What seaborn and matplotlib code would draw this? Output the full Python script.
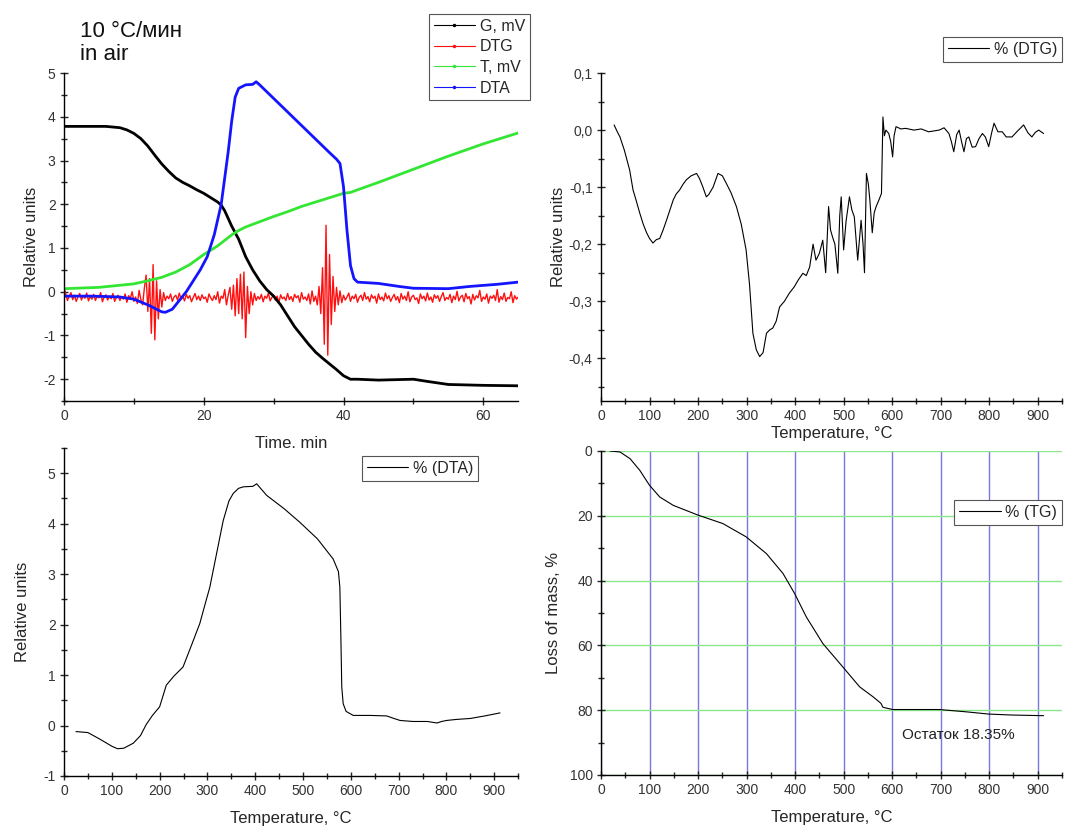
import matplotlib
matplotlib.use('Agg')
import matplotlib.pyplot as plt
import seaborn as sns
from matplotlib.ticker import MultipleLocator, FuncFormatter
from matplotlib.lines import Line2D

# ---- top left: signals vs time ----
g_time = [0, 6, 8, 9, 10, 11, 12, 13, 14, 15, 16, 17, 18, 19, 20, 21, 22, 22.5, 23, 24, 25, 26, 27, 28,
          29, 30, 31, 32, 33, 34, 35, 36, 37, 38, 39, 40, 41, 42, 45, 50, 52, 55, 60, 65]
g_mv = [3.78, 3.78, 3.75, 3.7, 3.62, 3.5, 3.33, 3.12, 2.92, 2.75, 2.6, 2.5, 2.42, 2.33, 2.25, 2.15, 2.05, 1.98,
        1.85, 1.5, 1.2, 0.8, 0.5, 0.25, 0.05, -0.1, -0.3, -0.55, -0.8, -1.0, -1.2, -1.38, -1.52, -1.65, -1.78,
        -1.92, -2.0, -2.0, -2.02, -2.0, -2.05, -2.12, -2.14, -2.15]

t_time = [0, 5, 10, 12, 14, 16, 18, 20, 22, 24, 25, 26, 28, 30, 32, 34, 36, 38, 40, 41, 42, 45, 50, 55, 60, 65]
t_mv = [0.07, 0.1, 0.18, 0.25, 0.33, 0.45, 0.62, 0.85, 1.05, 1.3, 1.4, 1.48, 1.6, 1.72, 1.83, 1.95, 2.05,
        2.15, 2.25, 2.27, 2.33, 2.5, 2.8, 3.1, 3.38, 3.63]

dta_time = [0, 4, 8, 10, 12, 13, 14, 14.5, 15.5, 16.5, 17.5, 18.5, 19.5, 20.5, 21.5, 22.5, 23, 23.5, 24,
            24.5, 25, 26, 27, 27.5, 28, 30, 32, 34, 36, 38, 39, 39.5, 40, 40.5, 41, 41.5, 42, 45, 48, 50,
            55, 58, 62, 65]
dta_val = [-0.1, -0.1, -0.12, -0.17, -0.3, -0.38, -0.46, -0.47, -0.4, -0.2, 0.0, 0.25, 0.5, 0.8, 1.3, 2.0,
           2.6, 3.2, 3.9, 4.45, 4.65, 4.73, 4.74, 4.8, 4.73, 4.42, 4.11, 3.8, 3.49, 3.18, 3.03, 2.93, 2.4,
           1.4, 0.6, 0.3, 0.22, 0.19, 0.12, 0.08, 0.07, 0.12, 0.17, 0.22]

dtg_time = [0, 0.25, 0.5, 0.75, 1, 1.25, 1.5, 1.75, 2, 2.25, 2.5, 2.75, 3, 3.25, 3.5, 3.75, 4, 4.25, 4.5,
            4.75, 5, 5.25, 5.5, 5.75, 6, 6.25, 6.5, 6.75, 7, 7.25, 7.5, 7.75, 8, 8.25, 8.5, 8.75, 9, 9.25,
            9.5, 9.75, 10, 10.25, 10.5, 10.75, 11, 11.25, 11.5, 11.75, 12, 12.25, 12.5, 12.75, 13, 13.25,
            13.5, 13.75, 14, 14.25, 14.5, 14.75, 15, 15.25, 15.5, 15.75, 16, 16.25, 16.5, 16.75, 17, 17.25,
            17.5, 17.75, 18, 18.25, 18.5, 18.75, 19, 19.25, 19.5, 19.75, 20, 20.25, 20.5, 20.75, 21, 21.25,
            21.5, 21.75, 22, 22.25, 22.5, 22.75, 23, 23.25, 23.5, 23.75, 24, 24.25, 24.5, 24.75, 25, 25.25,
            25.5, 25.75, 26, 26.25, 26.5, 26.75, 27, 27.25, 27.5, 27.75, 28, 28.25, 28.5, 28.75, 29, 29.25,
            29.5, 29.75, 30, 30.25, 30.5, 30.75, 31, 31.25, 31.5, 31.75, 32, 32.25, 32.5, 32.75, 33, 33.25,
            33.5, 33.75, 34, 34.25, 34.5, 34.75, 35, 35.25, 35.5, 35.75, 36, 36.25, 36.5, 36.75, 37, 37.25,
            37.5, 37.75, 38, 38.25, 38.5, 38.75, 39, 39.25, 39.5, 39.75, 40, 40.25, 40.5, 40.75, 41, 41.25,
            41.5, 41.75, 42, 42.25, 42.5, 42.75, 43, 43.25, 43.5, 43.75, 44, 44.25, 44.5, 44.75, 45, 45.25,
            45.5, 45.75, 46, 46.25, 46.5, 46.75, 47, 47.25, 47.5, 47.75, 48, 48.25, 48.5, 48.75, 49, 49.25,
            49.5, 49.75, 50, 50.25, 50.5, 50.75, 51, 51.25, 51.5, 51.75, 52, 52.25, 52.5, 52.75, 53, 53.25,
            53.5, 53.75, 54, 54.25, 54.5, 54.75, 55, 55.25, 55.5, 55.75, 56, 56.25, 56.5, 56.75, 57, 57.25,
            57.5, 57.75, 58, 58.25, 58.5, 58.75, 59, 59.25, 59.5, 59.75, 60, 60.25, 60.5, 60.75, 61, 61.25,
            61.5, 61.75, 62, 62.25, 62.5, 62.75, 63, 63.25, 63.5, 63.75, 64, 64.25, 64.5, 64.75, 65]
dtg_val = [0.1, -0.05, -0.2, -0.1, -0.02, -0.18, -0.08, -0.22, -0.12, -0.04,
           -0.19, -0.09, -0.15, -0.03, -0.21, -0.11, -0.17, -0.06, -0.2, -0.1,
           -0.14, -0.02, -0.23, -0.12, -0.07, -0.19, -0.1, -0.16, -0.04, -0.22,
           -0.13, -0.08, -0.2, -0.11, -0.17, -0.05, -0.24, -0.09, -0.15, 0.0,
           -0.22, -0.12, -0.27, 0.03, -0.18, -0.3, 0.08,
           0.38, -0.45, 0.3, -0.95, 0.62, -1.1, 0.25, -0.62, 0.05, -0.35,
           -0.02, -0.2, -0.1, -0.16, -0.05, -0.22, -0.12, -0.08, -0.19, -0.03,
           -0.17, -0.11, -0.21, -0.06, -0.15, -0.09, -0.23, -0.13, -0.04, -0.18,
           -0.1, -0.2, -0.07, -0.16, -0.12, -0.24, -0.05, -0.14, -0.2, -0.09,
           -0.18, 0.0, -0.26, -0.1, -0.15, 0.05, -0.3, -0.08, 0.1, -0.4,
           0.15, -0.55, 0.3, -0.5, 0.4, -0.62, 0.45, -1.05, 0.12, -0.5, 0.0, -0.3,
           -0.04, -0.2, -0.11, -0.17, -0.06, -0.23, -0.1, -0.15, -0.03, -0.21,
           -0.13, -0.08, -0.19, -0.1, -0.25, -0.07, -0.16, -0.12, -0.2, -0.04,
           -0.18, -0.11, -0.22, -0.06, -0.14, -0.09, -0.24, -0.02, -0.17, -0.12,
           -0.2, -0.05, -0.28, 0.02, -0.22, -0.1, -0.3, 0.12,
           -0.5, 0.55, -1.2, 1.52, -1.45, 0.85, -0.75, 0.35, -0.45, 0.1, -0.3, 0.02,
           -0.25, -0.08, -0.19, -0.12, -0.03, -0.22, -0.1, -0.16, -0.06, -0.24,
           -0.13, -0.08, -0.2, -0.02, -0.17, -0.11, -0.23, -0.07, -0.15, -0.1,
           -0.26, -0.05, -0.18, -0.12, -0.21, -0.03, -0.16, -0.09, -0.22, -0.13,
           -0.06, -0.19, -0.11, -0.25, -0.04, -0.17, -0.1, -0.2, 0.0, -0.23,
           -0.12, -0.08, -0.18, -0.14, -0.27, -0.05, -0.16, -0.1, -0.21, -0.03,
           -0.19, -0.12, -0.24, -0.07, -0.15, -0.09, -0.22, -0.11, -0.02, -0.2,
           -0.13, -0.17, -0.06, -0.25, -0.1, -0.18, 0.01, -0.21, -0.12, -0.08,
           -0.23, -0.04, -0.16, -0.11, -0.28, -0.06, -0.19, -0.09, -0.14, 0.03,
           -0.22, -0.12, -0.17, -0.05, -0.26, -0.1, -0.15, -0.08, -0.2, 0.05,
           -0.24, -0.11, -0.18, -0.03, -0.22, -0.13, -0.16, 0.0, -0.25, -0.09,
           -0.17, -0.12]

# ---- top right: DTG vs temperature ----
dtg_temp = [27, 33, 39, 48, 59, 66, 73, 80, 87, 94, 100, 107, 114, 121, 128, 135, 142, 149, 155, 162, 169,
            176, 186, 197, 203, 210, 217, 222, 231, 241, 250, 258, 268, 279, 289, 299, 306, 313, 320, 327,
            334, 341, 348, 354, 361, 368, 378, 388, 398, 407, 416, 423, 430, 437, 443, 450, 457, 463, 469,
            473, 477, 482, 488, 492, 495, 500, 505, 512, 517, 522, 529, 536, 540, 543, 547, 551, 554, 559,
            563, 567, 573, 578, 581, 584, 587, 593, 597, 601, 604, 608, 618, 628, 645, 660, 675, 697, 707,
            717, 722, 727, 733, 738, 743, 748, 753, 758, 765, 772, 779, 786, 792, 799, 805, 810, 818, 827,
            835, 847, 858, 871, 880, 888, 895, 902, 912]
dtg_pct = [0.009, -0.002, -0.012, -0.035, -0.07, -0.105, -0.125, -0.146, -0.165, -0.18, -0.19, -0.198,
           -0.192, -0.19, -0.175, -0.158, -0.14, -0.122, -0.112, -0.105, -0.095, -0.087, -0.08, -0.076,
           -0.085, -0.1, -0.117, -0.113, -0.1, -0.076, -0.08, -0.093, -0.11, -0.134, -0.165, -0.21, -0.27,
           -0.356, -0.385, -0.397, -0.39, -0.356, -0.35, -0.347, -0.335, -0.31, -0.3, -0.286, -0.275,
           -0.262, -0.251, -0.255, -0.24, -0.2, -0.228, -0.216, -0.193, -0.25, -0.134, -0.175, -0.187,
           -0.2, -0.251, -0.15, -0.117, -0.21, -0.16, -0.117, -0.14, -0.152, -0.228, -0.158, -0.2, -0.25,
           -0.076, -0.095, -0.122, -0.18, -0.145, -0.134, -0.122, -0.111, 0.023, -0.01, 0.0, -0.006,
           -0.02, -0.047, -0.01, 0.006, 0.002, 0.003, 0.0, 0.002, -0.003, 0.0, 0.004, -0.006, -0.02,
           -0.038, -0.008, 0.0, -0.02, -0.038, -0.015, -0.012, -0.03, -0.029, -0.015, -0.006, -0.012,
           -0.029, -0.005, 0.012, -0.003, -0.003, -0.012, -0.012, -0.002, 0.009, -0.005, -0.012, -0.004,
           0.0, -0.006]

# ---- bottom left: DTA vs temperature ----
dta_temp = [25, 50, 75, 100, 112, 125, 145, 160, 172, 185, 200, 214, 230, 249, 265, 284, 295, 305, 319,
            333, 345, 354, 365, 375, 395, 403, 424, 460, 493, 530, 563, 574, 577, 579, 581, 584, 590, 605,
            640, 675, 690, 703, 730, 760, 780, 790, 800, 820, 850, 880, 912]
dta_rel = [-0.12, -0.14, -0.27, -0.41, -0.46, -0.45, -0.35, -0.2, 0.02, 0.2, 0.37, 0.8, 0.98, 1.16, 1.55,
           2.02, 2.4, 2.74, 3.4, 4.06, 4.45, 4.6, 4.7, 4.73, 4.74, 4.79, 4.56, 4.3, 4.03, 3.7, 3.3, 3.05,
           2.74, 1.8, 0.76, 0.43, 0.28, 0.2, 0.2, 0.19, 0.14, 0.1, 0.08, 0.08, 0.05, 0.08, 0.1, 0.12, 0.14,
           0.19, 0.25]

# ---- bottom right: TG vs temperature ----
tg_temp = [18, 39, 60, 80, 100, 121, 149, 200, 251, 299, 341, 375, 399, 423, 457, 498, 533, 560, 577,
           581, 601, 697, 752, 799, 847, 912]
tg_loss = [0, 0.3, 2.4, 6, 10.6, 14.2, 16.8, 19.8, 22.4, 26.5, 31.7, 37.8, 44, 51.2, 59.4, 66.6, 72.8,
           75.8, 77.9, 79.1, 79.8, 79.8, 80.5, 81.2, 81.5, 81.7]

sns.set_theme(style='ticks')
plt.rcParams['font.family'] = ['Liberation Sans', 'DejaVu Sans']
plt.rcParams['axes.linewidth'] = 1.0
plt.rcParams['axes.edgecolor'] = 'black'
plt.rcParams['axes.unicode_minus'] = False

fig = plt.figure(figsize=(10.7, 8.27), dpi=100)
ax1 = fig.add_axes([0.0598, 0.515, 0.4245, 0.3967])
ax2 = fig.add_axes([0.5617, 0.515, 0.4308, 0.3967])
ax3 = fig.add_axes([0.0598, 0.0617, 0.4245, 0.3966])
ax4 = fig.add_axes([0.5617, 0.0629, 0.4308, 0.3918])


def style(ax, xmaj, xmin, ymaj, ymin):
    for s in ['top', 'right']:
        ax.spines[s].set_visible(False)
    ax.xaxis.set_major_locator(MultipleLocator(xmaj))
    ax.xaxis.set_minor_locator(MultipleLocator(xmin))
    ax.yaxis.set_major_locator(MultipleLocator(ymaj))
    ax.yaxis.set_minor_locator(MultipleLocator(ymin))
    ax.tick_params(which='major', direction='inout', length=6, width=1, labelsize=10,
                   labelcolor='#333333', pad=3)
    ax.tick_params(which='minor', direction='inout', length=4, width=1)


def box_legend(ax, handles, labels, anchor, **kw):
    leg = ax.legend(handles, labels, loc='upper right', bbox_to_anchor=anchor,
                    bbox_transform=fig.transFigure, borderaxespad=0, fancybox=False, framealpha=1,
                    edgecolor='#555555', fontsize=11.5, handlelength=2.6, borderpad=0.3,
                    handletextpad=0.3, **kw)
    leg.get_frame().set_linewidth(0.8)


lw_thin = 0.8
# top left - noisy DTG first so the smooth curves sit on top of it
sns.lineplot(x=dtg_time, y=dtg_val, ax=ax1, color='#ff1010', lw=1.0, estimator=None, sort=False)
sns.lineplot(x=g_time, y=g_mv, ax=ax1, color='black', lw=2, estimator=None, sort=False)
sns.lineplot(x=t_time, y=t_mv, ax=ax1, color='#33e633', lw=2, estimator=None, sort=False)
sns.lineplot(x=dta_time, y=dta_val, ax=ax1, color='#1414ff', lw=2, estimator=None, sort=False)
ax1.set_xlim(0, 65)
ax1.set_ylim(-2.5, 5)
style(ax1, 20, 10, 1, 0.5)
ax1.set_xlabel('Time, min', fontsize=12, labelpad=9)
ax1.set_ylabel('Relative units', fontsize=12, labelpad=3)
handles = [Line2D([], [], color=c, lw=0.8, marker='.', markersize=3)
           for c in ['black', '#ff1010', '#33e633', '#1414ff']]
box_legend(ax1, handles, ['G, mV', 'DTG', 'T, mV', 'DTA'], (530 / 1070, 1 - 14 / 827), labelspacing=0.35)
fig.text(0.075, 0.975, '10 °C/мин\nin air', fontsize=16, va='top', ha='left', linespacing=1.15,
         color='#111111')

# top right
sns.lineplot(x=dtg_temp, y=dtg_pct, ax=ax2, color='black', lw=lw_thin, estimator=None, sort=False)
ax2.set_xlim(0, 950)
ax2.set_ylim(-0.475, 0.1)
style(ax2, 100, 50, 0.1, 0.05)
ax2.yaxis.set_major_formatter(FuncFormatter(lambda v, p: f'{round(v, 2) + 0:.1f}'.replace('.', ',')))
ax2.set_xlabel('Temperature, °C', fontsize=12, labelpad=2)
ax2.set_ylabel('Relative units', fontsize=12, labelpad=2)
box_legend(ax2, [Line2D([], [], color='black', lw=0.8)], ['% (DTG)'], (1062 / 1070, 1 - 37 / 827))

# bottom left
sns.lineplot(x=dta_temp, y=dta_rel, ax=ax3, color='black', lw=lw_thin, estimator=None, sort=False)
ax3.set_xlim(0, 950)
ax3.set_ylim(-1, 5.5)
style(ax3, 100, 50, 1, 0.5)
ax3.set_xlabel('Temperature, °C', fontsize=12, labelpad=9)
ax3.set_ylabel('Relative units', fontsize=12, labelpad=10)
box_legend(ax3, [Line2D([], [], color='black', lw=0.8)], ['% (DTA)'], (478 / 1070, 1 - 456 / 827))

# bottom right
ax4.set_xlim(0, 950)
ax4.set_ylim(100, 0)
style(ax4, 100, 50, 20, 10)
ax4.xaxis.grid(True, color='#7878e0', lw=1)
ax4.yaxis.grid(True, color='#8ce68c', lw=1)
ax4.set_axisbelow(True)
sns.lineplot(x=tg_temp, y=tg_loss, ax=ax4, color='black', lw=lw_thin, estimator=None, sort=False)
ax4.set_xlabel('Temperature, °C', fontsize=12, labelpad=9)
ax4.set_ylabel('Loss of mass, %', fontsize=12, labelpad=6)
ax4.text(620, 87.7, 'Остаток 18.35%', fontsize=11, va='center', ha='left', color='#222222')
box_legend(ax4, [Line2D([], [], color='black', lw=0.8)], ['% (TG)'], (1062 / 1070, 1 - 500 / 827))

fig.savefig('out.png', dpi=100)
